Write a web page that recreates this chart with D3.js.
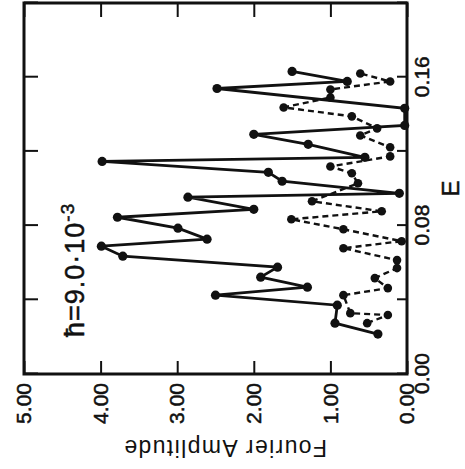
<!DOCTYPE html>
<html>
<head>
<meta charset="utf-8">
<script src="https://cdn.jsdelivr.net/npm/d3@7"></script>
<style>
  body { margin: 0; background: #fff; }
  text { font-family: "Liberation Sans", Arial, sans-serif; fill: #111; }
</style>
</head>
<body>
<div id="chart"></div>
<script>
// values (E on the horizontal axis before the 90 degree turn)
const ampTicks = [0, 1, 2, 3, 4, 5];
const eTicks = [0, 0.04, 0.08, 0.12, 0.16, 0.2];
const eLabels = [0, 0.08, 0.16];

const solidE = [0.0215, 0.0274, 0.0371, 0.0425, 0.0468, 0.0522, 0.0576, 0.0635, 0.0689, 0.0727,
    0.0786, 0.0845, 0.0888, 0.0953, 0.0974, 0.1039, 0.1087, 0.1146, 0.1168, 0.1238,
    0.1292, 0.1340, 0.1432, 0.1539, 0.1577, 0.1631];
const solidAmp = [0.38, 0.94, 0.91, 2.50, 1.30, 1.91, 1.69, 3.71, 3.99, 2.61,
    2.99, 3.78, 2.00, 2.86, 0.10, 1.63, 1.81, 3.98, 0.55, 1.29,
    2.00, 0.03, 0.03, 2.48, 0.78, 1.50];

const dashedE = [0.0274, 0.0318, 0.0328, 0.0425, 0.0463, 0.0517, 0.0571, 0.0614, 0.0678, 0.0716,
    0.0780, 0.0834, 0.0877, 0.0931, 0.1028, 0.1082, 0.1119, 0.1173, 0.1222, 0.1286,
    0.1324, 0.1389, 0.1437, 0.1491, 0.1534, 0.1577, 0.1620];
const dashedAmp = [0.52, 0.25, 0.74, 0.83, 0.25, 0.42, 0.13, 0.13, 0.83, 0.07,
    0.83, 1.51, 0.33, 1.24, 0.64, 0.72, 1.00, 0.22, 0.22, 0.61,
    0.39, 0.72, 1.61, 1.00, 1.00, 0.22, 0.61];

const W = 465, H = 469;

let svg = d3.select("#chart").append("svg")
    .attr("width", W)
    .attr("height", H);

svg.append("rect").attr("width", W).attr("height", H).attr("fill", "#fff");

// the whole figure is turned a quarter turn counter-clockwise
let g = svg.append("g")
    .attr("transform", "translate(0," + H + ") rotate(-90)");

let margin = { left: 95, right: 3, top: 24, bottom: 58 };
let innerW = H - margin.left - margin.right;
let innerH = W - margin.top - margin.bottom;

let xScale = d3.scaleLinear()
    .domain([0, 0.2])
    .range([margin.left, margin.left + innerW]);

let yScale = d3.scaleLinear()
    .domain([0, 5])
    .range([margin.top + innerH, margin.top]);

const fmt = d3.format(".2f");

let styleAxis = sel => {
    sel.select(".domain").remove();
    sel.selectAll(".tick line").attr("stroke", "#111").attr("stroke-width", 2);
    sel.selectAll("text")
        .attr("font-family", "Liberation Sans, Arial, sans-serif")
        .attr("font-size", 21)
        .attr("fill", "#111")
        .attr("stroke", "#111")
        .attr("stroke-width", 0.5);
};

g.append("g")
    .attr("transform", "translate(" + margin.left + ",0)")
    .call(d3.axisLeft(yScale).tickValues(ampTicks).tickFormat(fmt).tickSize(-13).tickPadding(9))
    .call(styleAxis);

g.append("g")
    .attr("transform", "translate(" + (margin.left + innerW) + ",0)")
    .call(d3.axisRight(yScale).tickValues(ampTicks).tickFormat("").tickSize(-14))
    .call(styleAxis);

g.append("g")
    .attr("transform", "translate(0," + (margin.top + innerH) + ")")
    .call(d3.axisBottom(xScale).tickValues(eTicks)
        .tickFormat(d => eLabels.some(v => Math.abs(v - d) < 1e-9) ? fmt(d) : "")
        .tickSize(-10).tickPadding(7))
    .call(styleAxis);

g.append("g")
    .attr("transform", "translate(0," + margin.top + ")")
    .call(d3.axisTop(xScale).tickValues(eTicks).tickFormat("").tickSize(-14))
    .call(styleAxis);

g.append("rect")
    .attr("x", margin.left)
    .attr("y", margin.top)
    .attr("width", innerW)
    .attr("height", innerH)
    .attr("fill", "none")
    .attr("stroke", "#111")
    .attr("stroke-width", 3);

let solid = solidE.map((e, i) => ({ e: e, a: solidAmp[i] }));
let dashed = dashedE.map((e, i) => ({ e: e, a: dashedAmp[i] }));

let line = d3.line()
    .x(d => xScale(d.e))
    .y(d => yScale(d.a));

g.append("path")
    .datum(dashed)
    .attr("d", line)
    .attr("fill", "none")
    .attr("stroke", "#111")
    .attr("stroke-width", 2.4)
    .attr("stroke-dasharray", "6,4");

g.append("path")
    .datum(solid)
    .attr("d", line)
    .attr("fill", "none")
    .attr("stroke", "#111")
    .attr("stroke-width", 2.8);

g.selectAll(".dot-d")
    .data(dashed)
    .enter().append("circle")
    .attr("cx", d => xScale(d.e))
    .attr("cy", d => yScale(d.a))
    .attr("r", 4.3)
    .attr("fill", "#111");

g.selectAll(".dot-s")
    .data(solid)
    .enter().append("circle")
    .attr("cx", d => xScale(d.e))
    .attr("cy", d => yScale(d.a))
    .attr("r", 4.6)
    .attr("fill", "#111");

// axis titles
g.append("text")
    .attr("transform", "translate(29,225) rotate(-90)")
    .attr("text-anchor", "middle")
    .attr("font-size", 23)
    .attr("letter-spacing", 1.4)
    .text("Fourier Amplitude");

g.append("text")
    .attr("x", xScale(0.1))
    .attr("y", 459)
    .attr("text-anchor", "middle")
    .attr("font-size", 24)
    .attr("stroke", "#111")
    .attr("stroke-width", 0.5)
    .text("E");

// hbar annotation
let ann = g.append("text")
    .attr("x", 132)
    .attr("y", 84)
    .attr("font-size", 27)
    .attr("letter-spacing", 1)
    .attr("stroke", "#111")
    .attr("stroke-width", 0.5);
ann.append("tspan").text("\u0127=9.0\u00b710");
ann.append("tspan").attr("dy", -10).attr("font-size", 19).text("-3");
</script>
</body>
</html>
